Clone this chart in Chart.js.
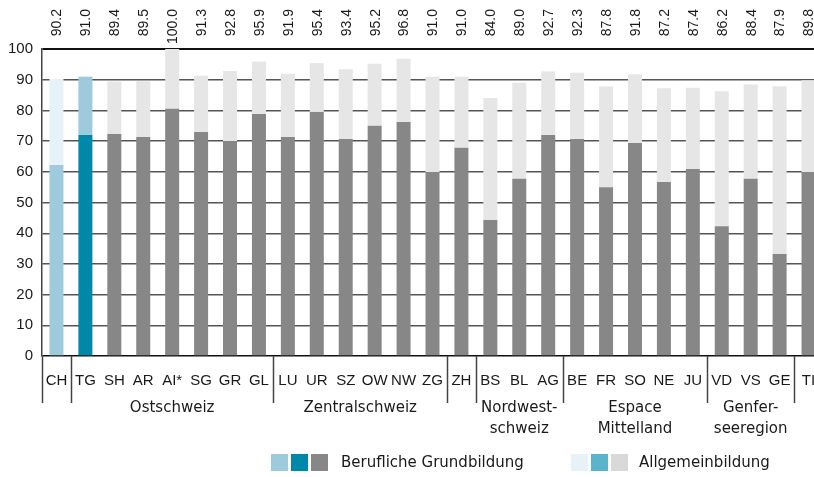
<!DOCTYPE html>
<html>
<head>
<meta charset="utf-8">
<script src="https://cdn.jsdelivr.net/npm/chart.js@4"></script>
<style>
  html, body { margin: 0; padding: 0; background: #fff; overflow: hidden; }
  #wrap { width: 814px; height: 477px; overflow: hidden; }
</style>
</head>
<body>
<div id="wrap"><canvas id="grafico" width="840" height="477"></canvas></div>
<script>
// Kantone / Kategorien
const kantone = ['CH', 'TG', 'SH', 'AR', 'AI*', 'SG', 'GR', 'GL', 'LU', 'UR', 'SZ', 'OW', 'NW', 'ZG',
    'ZH', 'BS', 'BL', 'AG', 'BE', 'FR', 'SO', 'NE', 'JU', 'VD', 'VS', 'GE', 'TI'];

// Anteile in %
const berufliche = [62.2, 72.0, 72.3, 71.3, 80.5, 73.0, 70.0, 78.8, 71.3, 79.5, 70.7, 75.0, 76.2, 59.9,
    67.8, 44.3, 57.7, 72.0, 70.7, 55.0, 69.4, 56.7, 60.9, 42.3, 57.7, 33.2, 59.9];
const allgemein = [28.0, 19.0, 17.1, 18.2, 19.5, 18.3, 22.8, 17.1, 20.6, 15.9, 22.7, 20.2, 20.6, 31.1,
    23.2, 39.7, 31.3, 20.7, 21.6, 32.8, 22.4, 30.5, 26.5, 43.9, 30.7, 54.7, 29.9];
const total = ['90.2', '91.0', '89.4', '89.5', '100.0', '91.3', '92.8', '95.9', '91.9', '95.4', '93.4', '95.2', '96.8', '91.0',
    '91.0', '84.0', '89.0', '92.7', '92.3', '87.8', '91.8', '87.2', '87.4', '86.2', '88.4', '87.9', '89.8'];

const yTicks = [0, 10, 20, 30, 40, 50, 60, 70, 80, 90, 100];

// Regionen (Index von / bis) und Trennlinien nach Index
const regionen = [
    { name: ['Ostschweiz'], von: 1, bis: 7 },
    { name: ['Zentralschweiz'], von: 8, bis: 13 },
    { name: ['Nordwest-', 'schweiz'], von: 15, bis: 17 },
    { name: ['Espace', 'Mittelland'], von: 18, bis: 22 },
    { name: ['Genfer-', 'seeregion'], von: 23, bis: 25 }
];
const trenner = [0, 7, 13, 14, 17, 22, 25];

const schrift = "'Liberation Sans', Arial, sans-serif";
const schriftBreit = "'DejaVu Sans', sans-serif";
const textFarbe = '#1a1a1a';

// Farben pro Balken
function farbe(i, ch, tg, rest) {
    if (i === 0) return ch;
    if (i === 1) return tg;
    return rest;
}
const farbenBeruf = kantone.map((_, i) => farbe(i, '#9ecbdc', '#0088a8', '#878787'));
const farbenAllg = kantone.map((_, i) => farbe(i, '#e6f2f8', '#9ecbdc', '#e6e6e6'));

// Zusatz: Werte oben, Trennlinien, Regionen, Legende
const extras = {
    id: 'extras',
    afterDraw(chart) {
        const ctx = chart.ctx;
        const x = chart.scales.x;
        const area = chart.chartArea;

        // Werte oben (gedreht)
        ctx.save();
        ctx.fillStyle = textFarbe;
        ctx.font = '14px ' + schrift;
        ctx.textAlign = 'right';
        ctx.textBaseline = 'middle';
        total.forEach((t, i) => {
            ctx.save();
            ctx.translate(x.getPixelForValue(i) + 1, 9);
            ctx.rotate(-Math.PI / 2);
            ctx.fillText(t, 0, 0);
            ctx.restore();
        });
        ctx.restore();

        // Trennlinien
        ctx.save();
        ctx.strokeStyle = '#444';
        ctx.lineWidth = 1.5;
        const linien = [area.left].concat(trenner.map(i => (x.getPixelForValue(i) + x.getPixelForValue(i + 1)) / 2));
        linien.forEach(px => {
            ctx.beginPath();
            ctx.moveTo(Math.round(px) + 0.5, area.bottom);
            ctx.lineTo(Math.round(px) + 0.5, 403);
            ctx.stroke();
        });
        ctx.restore();

        // Regionen
        ctx.save();
        ctx.fillStyle = textFarbe;
        ctx.font = '15px ' + schriftBreit;
        ctx.textAlign = 'center';
        ctx.textBaseline = 'middle';
        regionen.forEach(r => {
            const mitte = (x.getPixelForValue(r.von) + x.getPixelForValue(r.bis)) / 2;
            r.name.forEach((zeile, k) => {
                ctx.fillText(zeile, mitte, 408 + k * 21);
            });
        });
        ctx.restore();

        // Legende
        ctx.save();
        const legende = [
            { x: 271, farben: ['#9ecbdc', '#0088a8', '#878787'], text: 'Berufliche Grundbildung', tx: 341 },
            { x: 571, farben: ['#e6f2f8', '#5ab4cc', '#d9d9d9'], text: 'Allgemeinbildung', tx: 639 }
        ];
        ctx.font = '15px ' + schriftBreit;
        ctx.textBaseline = 'middle';
        ctx.textAlign = 'left';
        legende.forEach(l => {
            l.farben.forEach((f, k) => {
                ctx.fillStyle = f;
                ctx.fillRect(l.x + k * 20, 454, 17, 17);
            });
            ctx.fillStyle = textFarbe;
            ctx.fillText(l.text, l.tx, 463);
        });
        ctx.restore();
    }
};

new Chart(document.getElementById('grafico'), {
    type: 'bar',
    data: {
        labels: kantone,
        datasets: [
            { label: 'Berufliche Grundbildung', data: berufliche, backgroundColor: farbenBeruf },
            { label: 'Allgemeinbildung', data: allgemein, backgroundColor: farbenAllg }
        ]
    },
    options: {
        responsive: false,
        animation: false,
        layout: { padding: { left: 0, right: 17, top: 49, bottom: 0 } },
        datasets: { bar: { barPercentage: 0.484, categoryPercentage: 1 } },
        plugins: { legend: { display: false }, tooltip: { enabled: false } },
        scales: {
            x: {
                stacked: true,
                grid: { display: false },
                border: { display: false },
                ticks: { color: textFarbe, font: { size: 15, family: schrift }, padding: 8, maxRotation: 0, autoSkip: false },
                afterFit(scale) { scale.height = 121; }
            },
            y: {
                stacked: true,
                min: 0,
                max: 100,
                afterBuildTicks(scale) { scale.ticks = yTicks.map(v => ({ value: v })); },
                grid: {
                    drawTicks: false,
                    color: c => (c.tick.value === 100 || c.tick.value === 0) ? '#111' : '#555',
                    lineWidth: c => c.tick.value === 100 ? 2 : 1.4
                },
                border: { display: true, color: '#444', width: 1.5 },
                ticks: { color: textFarbe, font: { size: 15, family: schrift }, padding: 9 },
                afterFit(scale) { scale.width = 42; }
            }
        }
    },
    plugins: [extras]
});
</script>
</body>
</html>
